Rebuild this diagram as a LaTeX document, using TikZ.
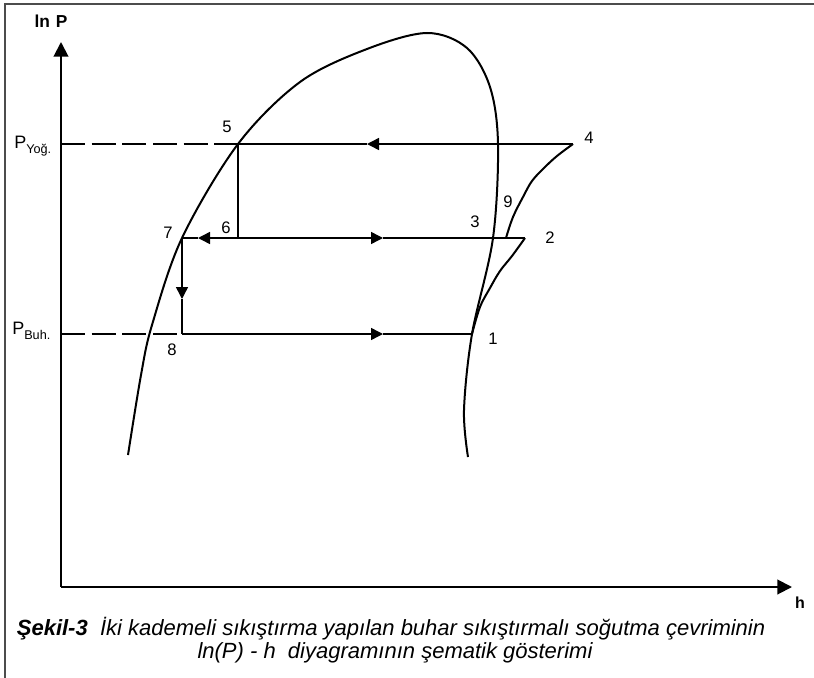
\documentclass[tikz,border=0pt]{standalone}
\usepackage{fontspec}
\setmainfont{Liberation Sans}
\usetikzlibrary{arrows.meta}

\tikzset{
  frameline/.style={line width=2.2pt,black!70},
  axis/.style={line width=1.5pt,-{Triangle[length=11pt,width=11pt]}},
  curve/.style={line width=1.5pt},
  cycleline/.style={line width=1.1pt},
  flow/.style={line width=1.1pt,-{Triangle[length=9pt,width=9pt]}},
  level/.style={line width=1.1pt,dash pattern=on 18pt off 5pt},
  numlbl/.style={font=\fontsize{12.5}{14}\selectfont,inner sep=0pt},
  axlbl/.style={font=\fontsize{13}{15}\selectfont\bfseries,inner sep=0pt},
  plbl/.style={font=\fontsize{13.5}{16}\selectfont,inner sep=0pt,anchor=base west},
  caption/.style={font=\fontsize{16.5}{18}\selectfont\itshape,inner sep=0pt,anchor=base},
}
\newcommand{\psub}[1]{\raisebox{-0.55ex}{\fontsize{9.5}{10}\selectfont #1}}

\begin{document}
\begin{tikzpicture}[x=0.75pt,y=-0.75pt]
    \useasboundingbox (0,0) rectangle (814,678);
    \draw[frameline] (5,678) -- (5,4) -- (814,4);

    % axes
    \coordinate (O) at (61,587);
    \coordinate (ytip) at (61,42);
    \coordinate (xtip) at (792,587);
    \draw[axis] (O) -- (ytip);
    \draw[axis] (O) -- (xtip);
    \node[axlbl] (lnP) at (51,21) {ln\,\,P};
    \node[axlbl,font=\fontsize{12}{13}\selectfont\bfseries] (hlbl) at (800,603) {h};

    % state points
    \coordinate (p1) at (472,334);
    \coordinate (p2) at (525,238);
    \coordinate (p3) at (493,238);
    \coordinate (p4) at (573,144);
    \coordinate (p5) at (238,144);
    \coordinate (p6) at (238,238);
    \coordinate (p7) at (182,238);
    \coordinate (p8) at (182,334);
    \coordinate (p9) at (506,238);

    % saturation dome
    \draw[curve] plot[smooth,tension=0.55] coordinates {
        (128,455) (141,375) (152,325) (p7) (p5) (300,82) (367,49)
        (427,33) (467,48) (490,87) (498,144) (p3) (p1) (464,410)
        (468,457)};

    % superheated vapour lines
    \draw[curve] plot[smooth,tension=0.6] coordinates {
        (p1) (480,307) (490,288) (500,271) (512,256) (p2)};
    \draw[curve] plot[smooth,tension=0.6] coordinates {
        (p9) (513,217) (523,197) (532,181) (544,168) (557,156) (p4)};

    % pressure levels
    \coordinate (yog) at (61,144);
    \coordinate (buh) at (61,334);
    \draw[level] (yog) -- (p5);
    \draw[level] (buh) -- (p8);
    \node[plbl] (pyog) at (14,148) {P\psub{Yoğ.}};
    \node[plbl] (pbuh) at (12,334) {P\psub{Buh.}};

    % cycle
    \coordinate (a45) at (367,144);
    \coordinate (a67) at (198,238);
    \coordinate (a62) at (383,238);
    \coordinate (a78) at (182,299);
    \coordinate (a81) at (383,334);
    \draw[flow] (p4) -- (a45);
    \draw[cycleline] (a45) -- (p5) -- (p6);
    \draw[flow] (p6) -- (a67);
    \draw[cycleline] (a67) -- (p7);
    \draw[flow] (p6) -- (a62);
    \draw[cycleline] (a62) -- (p2);
    \draw[flow] (p7) -- (a78);
    \draw[cycleline] (a78) -- (p8);
    \draw[flow] (p8) -- (a81);
    \draw[cycleline] (a81) -- (p1);

    % point numbers
    \node[numlbl] (l1) at (493,339) {1};
    \node[numlbl] (l2) at (550,238) {2};
    \node[numlbl] (l3) at (475,222) {3};
    \node[numlbl] (l4) at (589,138) {4};
    \node[numlbl] (l5) at (227,127) {5};
    \node[numlbl] (l6) at (226,228) {6};
    \node[numlbl] (l7) at (168,233) {7};
    \node[numlbl] (l8) at (172,350) {8};
    \node[numlbl] (l9) at (508,202) {9};

    % caption
    \node[caption] (cap1) at (391,635) {{\bfseries Şekil-3}\ \ İki kademeli sıkıştırma yapılan buhar sıkıştırmalı soğutma çevriminin};
    \node[caption] (cap2) at (395,658) {ln(P) - h\ \ diyagramının şematik gösterimi};
\end{tikzpicture}
\end{document}
